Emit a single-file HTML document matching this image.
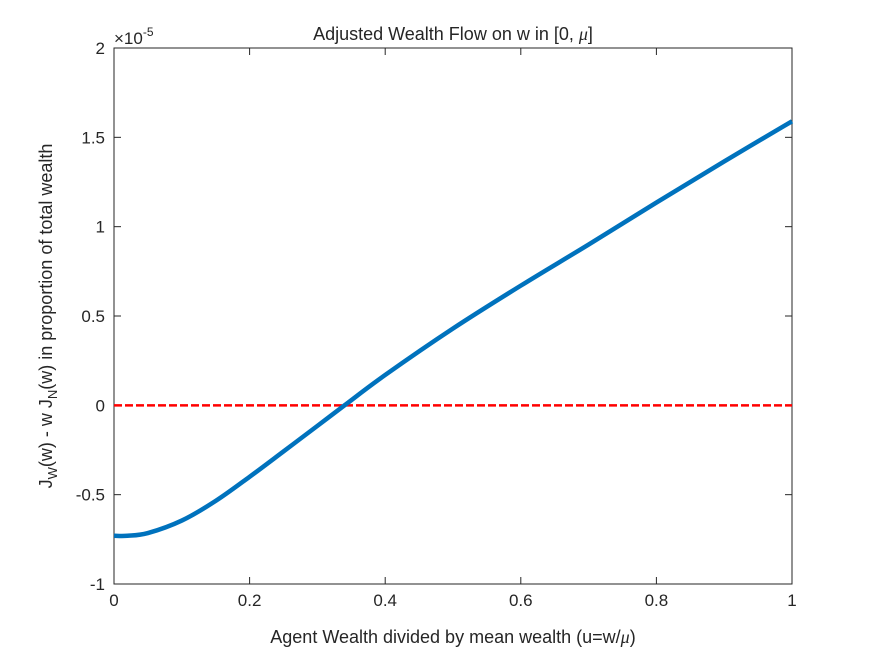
<!DOCTYPE html>
<html><head><meta charset="utf-8"><style>
body{margin:0;background:#fff;}
svg text{font-family:"Liberation Sans",sans-serif;fill:#262626;}
</style></head><body>
<svg id="chart" width="875" height="656">
<rect x="0" y="0" width="875" height="656" fill="#fff"/>
<rect x="114" y="48" width="678" height="536" fill="#fff" stroke="#262626" stroke-width="1"/>
<g id="ticks"></g>
<g id="series"></g>
<text x="453" y="40" font-size="18" text-anchor="middle">Adjusted Wealth Flow on w in [0, <tspan font-family="Liberation Serif" font-style="italic">μ</tspan>]</text>
<text x="453" y="643" font-size="18" text-anchor="middle">Agent Wealth divided by mean wealth (u=w/<tspan font-family="Liberation Serif" font-style="italic">μ</tspan>)</text>
<text transform="translate(52,316) rotate(-90)" font-size="18" text-anchor="middle">J<tspan font-size="13" dy="5">W</tspan><tspan dy="-5">(w) - w J</tspan><tspan font-size="13" dy="5">N</tspan><tspan dy="-5">(w) in proportion of total wealth</tspan></text>
<text x="114" y="44" font-size="17">×10<tspan font-size="12" dy="-8">-5</tspan></text>
</svg>
<script>
const xTicks=[0,0.2,0.4,0.6,0.8,1];
const yTicks=[-1,-0.5,0,0.5,1,1.5,2];
const yTickLabels=["-1","-0.5","0","0.5","1","1.5","2"];
const xTickLabels=["0","0.2","0.4","0.6","0.8","1"];
const uValues=[0,0.02,0.05,0.1,0.15,0.2,0.25,0.3,0.34,0.4,0.5,0.6,0.7,0.8,0.9,1.0];
const flowValues=[-0.73,-0.73,-0.715,-0.645,-0.535,-0.40,-0.258,-0.115,0,0.17,0.43,0.67,0.90,1.135,1.365,1.59];
const zeroLine=[0,0];
const L=114,R=792,T=48,B=584;
const sx=u=>L+(u-0)/(1-0)*(R-L);
const sy=v=>B-(v-(-1))/(2-(-1))*(B-T);
const NS="http://www.w3.org/2000/svg";
const tg=document.getElementById('ticks');
function mk(t,a,p){const e=document.createElementNS(NS,t);for(const k in a)e.setAttribute(k,a[k]);p.appendChild(e);return e;}
xTicks.forEach((v,i)=>{
 const l=mk('line',{x1:sx(v),x2:sx(v),y1:B,y2:B-7,stroke:'#262626'},tg);
 
 
 mk('line',{x1:sx(v),x2:sx(v),y1:T,y2:T+7,stroke:'#262626'},tg);
 const t=mk('text',{x:sx(v),y:B+22,'font-size':17,'text-anchor':'middle'},tg);
 t.textContent=xTickLabels[i];
 
 
});
yTicks.forEach((v,i)=>{
 const l=mk('line',{x1:L,x2:L+7,y1:sy(v),y2:sy(v),stroke:'#262626'},tg);
 
 
 mk('line',{x1:R,x2:R-7,y1:sy(v),y2:sy(v),stroke:'#262626'},tg);
 const t=mk('text',{x:L-9,y:sy(v)+6,'font-size':17,'text-anchor':'end'},tg);
 t.textContent=yTickLabels[i];
 
 
});
const sg=document.getElementById('series');
const z=mk('line',{x1:sx(0),x2:sx(1),y1:sy(zeroLine[0]),y2:sy(zeroLine[1]),stroke:'#ff0000','stroke-width':2.5,'stroke-dasharray':'8,3'},sg);


const pts=uValues.map((u,i)=>[sx(u),sy(flowValues[i])]);
let d='M'+pts[0][0].toFixed(1)+','+pts[0][1].toFixed(1);
for(let i=0;i<pts.length-1;i++){
 const p0=pts[Math.max(0,i-1)],p1=pts[i],p2=pts[i+1],p3=pts[Math.min(pts.length-1,i+2)];
 const c1=[p1[0]+(p2[0]-p0[0])/6,p1[1]+(p2[1]-p0[1])/6];
 const c2=[p2[0]-(p3[0]-p1[0])/6,p2[1]-(p3[1]-p1[1])/6];
 d+=' C'+c1.join(',')+' '+c2.join(',')+' '+p2.join(',');
}
const p=mk('path',{d:d,fill:'none',stroke:'#0072BD','stroke-width':4.5,'stroke-linejoin':'round'},sg);


</script>
</body></html>
